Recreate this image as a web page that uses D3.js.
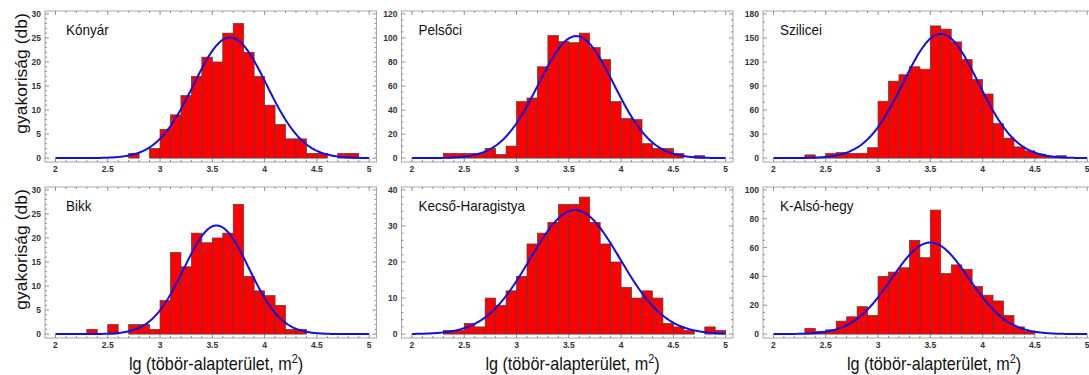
<!DOCTYPE html>
<html>
<head>
<meta charset="utf-8">
<script src="https://cdn.jsdelivr.net/npm/d3@7"></script>
<style>
    body { margin: 0; background: #fff; }
    svg { display: block; font-family: 'Liberation Sans', Arial, sans-serif; }
</style>
</head>
<body>
<svg id="histSVG" width="1089" height="375"></svg>
<script>

// bin starts (width 0.1), shared by all panels
var binStarts = [2.0, 2.1, 2.2, 2.3, 2.4, 2.5, 2.6, 2.7, 2.8, 2.9,
                 3.0, 3.1, 3.2, 3.3, 3.4, 3.5, 3.6, 3.7, 3.8, 3.9,
                 4.0, 4.1, 4.2, 4.3, 4.4, 4.5, 4.6, 4.7, 4.8, 4.9];
var binWidth = 0.1;

var siteNames = ['Kónyár', 'Pelsőci', 'Szilicei', 'Bikk', 'Kecső-Haragistya', 'K-Alsó-hegy'];

var konyarCounts  = [0, 0, 0, 0, 0, 0, 0, 1, 0, 2, 6, 9, 13, 17, 21, 20, 26, 28, 22, 17, 11, 7, 4, 4, 1, 1, 0, 1, 1, 0];
var pelsociCounts = [0, 0, 0, 4, 4, 4, 4, 8, 3, 10, 47, 50, 76, 102, 97, 96, 104, 92, 82, 47, 33, 32, 12, 8, 8, 4, 0, 2, 0, 0];
var sziliceiCounts = [0, 0, 0, 4, 1, 6, 7, 6, 6, 13, 71, 96, 104, 114, 111, 165, 161, 145, 123, 98, 80, 43, 25, 14, 9, 5, 2, 3, 0, 0];
var bikkCounts    = [0, 0, 0, 1, 0, 2, 0, 2, 2, 1, 7, 17, 14, 21, 19, 20, 21, 27, 12, 9, 8, 6, 1, 1, 0, 0, 0, 0, 0, 0];
var kecsoCounts   = [0, 0, 0, 1, 1, 3, 2, 10, 8, 12, 16, 25, 28, 31, 36, 36, 38, 31, 25, 20, 13, 10, 12, 10, 3, 2, 1, 0, 2, 1];
var alsoCounts    = [0, 0, 0, 4, 2, 3, 9, 12, 19, 13, 40, 43, 46, 65, 53, 86, 42, 48, 45, 33, 27, 23, 13, 5, 2, 0, 0, 0, 0, 0];

// fitted normal curves: mean, sd, peak height
var fitMeans = [3.67, 3.57, 3.60, 3.54, 3.56, 3.50];
var fitSds   = [0.35, 0.36, 0.36, 0.31, 0.43, 0.37];
var fitPeaks = [25.1, 101.5, 155, 22.6, 34.4, 63.5];

// y axis: top tick, major step, minor step
var yMaxTicks  = [30, 120, 180, 30, 40, 100];
var yMajorStep = [5, 20, 30, 5, 10, 20];
var yMinorStep = [1, 5, 10, 1, 2, 5];

var xMajorTicks = [2, 2.5, 3, 3.5, 4, 4.5, 5];

var allCounts = [konyarCounts, pelsociCounts, sziliceiCounts, bikkCounts, kecsoCounts, alsoCounts];

var panelLefts = [45, 401.5, 763];
var panelTops = [11, 187];
var frameW = 331.5;
var frameH = 151;
var squeeze = 0.9; // text in the picture is a bit narrow

var svg = d3.select('#histSVG');

function squeezedText(parent, x, y, anchor) {
    return parent.append('text')
        .attr('transform', 'translate(' + x + ',' + y + ') scale(' + squeeze + ',1)')
        .attr('text-anchor', anchor);
}

function buildPanel(i) {
    var col = i % 3;
    var row = Math.floor(i / 3);
    var left = panelLefts[col];
    var top = panelTops[row];
    var counts = allCounts[i];
    var yMax = yMaxTicks[i];

    var x = d3.scaleLinear()
        .domain([1.9, 5.07])
        .range([left, left + frameW]);

    var y = d3.scaleLinear()
        .domain([-yMax * 0.027, yMax * 1.02])
        .range([top + frameH, top]);

    var g = svg.append('g').attr('class', 'panel');

    var bins = binStarts.map(function(b, k) {
        return { x0: b, x1: b + binWidth, count: counts[k] };
    }).filter(function(d) { return d.count > 0; });

    g.selectAll('.bar')
        .data(bins)
        .enter()
        .append('rect')
            .attr('class', 'bar')
            .attr('x', function(d) { return x(d.x0); })
            .attr('width', function(d) { return x(d.x1) - x(d.x0); })
            .attr('y', function(d) { return y(d.count); })
            .attr('height', function(d) { return y(0) - y(d.count); })
            .attr('fill', '#ff0000')
            .attr('stroke', '#444')
            .attr('stroke-width', 0.7);

    // fitted normal curve
    var mu = fitMeans[i], sd = fitSds[i], peak = fitPeaks[i];
    var curveX = d3.range(2, 5.0001, 0.01);
    var line = d3.line()
        .x(function(d) { return x(d); })
        .y(function(d) { return y(peak * Math.exp(-(d - mu) * (d - mu) / (2 * sd * sd))); });

    g.append('path')
        .datum(curveX)
        .attr('d', line)
        .attr('fill', 'none')
        .attr('stroke', '#1010e0')
        .attr('stroke-width', 2);

    // frame
    g.append('rect')
        .attr('x', left)
        .attr('y', top)
        .attr('width', frameW)
        .attr('height', frameH)
        .attr('fill', 'none')
        .attr('stroke', '#a8a8a8')
        .attr('stroke-width', 1);

    // x ticks (inward, bottom and top)
    var xMinor = d3.range(20, 51).map(function(v) { return v / 10; });
    xMinor.forEach(function(v) {
        var major = (Math.round(v * 10) % 5 === 0);
        var len = major ? 4 : 2;
        g.append('line')
            .attr('x1', x(v)).attr('x2', x(v))
            .attr('y1', top + frameH).attr('y2', top + frameH - len)
            .attr('stroke', '#777').attr('stroke-width', 0.8);
        g.append('line')
            .attr('x1', x(v)).attr('x2', x(v))
            .attr('y1', top).attr('y2', top + len)
            .attr('stroke', '#777').attr('stroke-width', 0.8);
    });

    // y ticks (inward, left and right)
    var yTicks = d3.range(0, yMax + 0.001, yMinorStep[i]);
    yTicks.forEach(function(v) {
        var major = (v % yMajorStep[i] === 0);
        var len = major ? 4 : 2;
        g.append('line')
            .attr('x1', left).attr('x2', left + len)
            .attr('y1', y(v)).attr('y2', y(v))
            .attr('stroke', '#777').attr('stroke-width', 0.8);
        g.append('line')
            .attr('x1', left + frameW).attr('x2', left + frameW - len)
            .attr('y1', y(v)).attr('y2', y(v))
            .attr('stroke', '#777').attr('stroke-width', 0.8);
    });

    // tick labels
    g.selectAll('.xlab')
        .data(xMajorTicks)
        .enter()
        .append('text')
            .attr('class', 'xlab')
            .attr('x', function(d) { return x(d); })
            .attr('y', top + frameH + 10)
            .attr('text-anchor', 'middle')
            .attr('font-size', '8.5px')
            .attr('font-weight', 'bold')
            .attr('fill', '#333')
            .text(function(d) { return d3.format('~g')(d); });

    g.selectAll('.ylab')
        .data(d3.range(0, yMax + 0.001, yMajorStep[i]))
        .enter()
        .append('text')
            .attr('class', 'ylab')
            .attr('x', left - 4)
            .attr('y', function(d) { return y(d) + 3; })
            .attr('text-anchor', 'end')
            .attr('font-size', '8.5px')
            .attr('font-weight', 'bold')
            .attr('fill', '#333')
            .text(function(d) { return d; });

    // site name
    squeezedText(g, left + (col === 0 ? 21 : 17), top + 24, 'start')
        .attr('font-size', '15px')
        .attr('fill', '#111')
        .text(siteNames[i]);

    // axis titles
    if (col === 0) {
        g.append('text')
            .attr('transform', 'translate(27,' + (top + frameH / 2 - 13) + ') rotate(-90) scale(1,' + squeeze + ')')
            .attr('text-anchor', 'middle')
            .attr('font-size', '17.5px')
            .attr('fill', '#111')
            .text('gyakoriság (db)');
    }
    if (row === 1) {
        var t = squeezedText(g, left + 171, 370, 'middle')
            .attr('font-size', '18px')
            .attr('fill', '#111');
        t.append('tspan').text('lg (töbör-alapterület, m');
        t.append('tspan').attr('dy', -7).attr('font-size', '12px').text('2');
        t.append('tspan').attr('dy', 7).text(')');
    }
}

for (var i = 0; i < 6; i++) {
    buildPanel(i);
}

</script>
</body>
</html>
